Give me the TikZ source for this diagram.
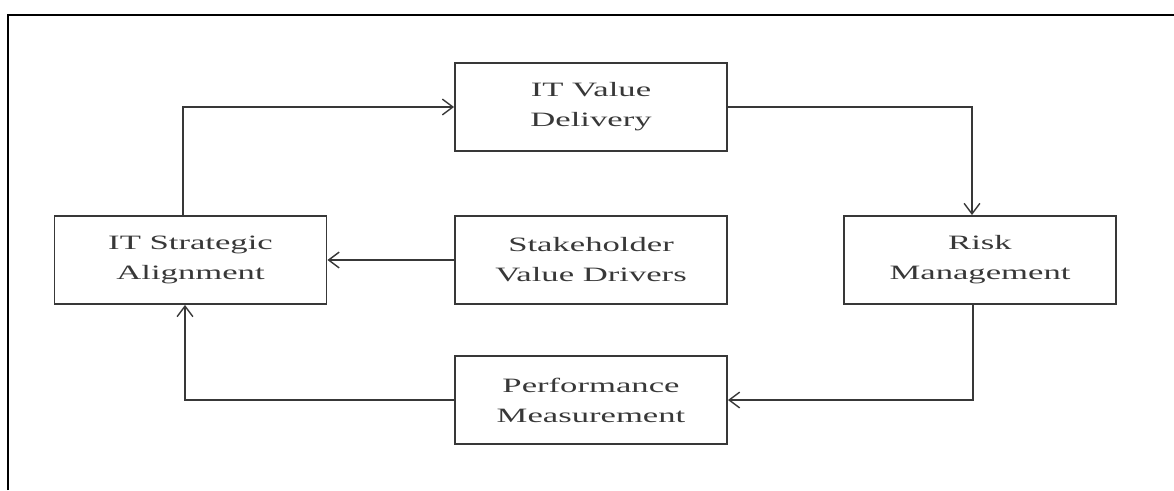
\documentclass[tikz,border=0pt]{standalone}
\usepackage{fontspec}
\setmainfont{Liberation Serif}[FakeStretch=1.7]
\usetikzlibrary{arrows.meta}
\definecolor{inkgray}{HTML}{383838}
\begin{document}
\begin{tikzpicture}[
  govbox/.style={draw=inkgray, line width=1.1pt, text=inkgray, align=center,
    minimum width=5.44cm, minimum height=1.76cm, inner sep=0pt,
    font=\fontsize{11.6}{17}\selectfont},
  link/.style={draw=inkgray, line width=0.8pt, -{Straight Barb[length=6pt,width=9pt]}}]
\useasboundingbox (0,0) rectangle (23.48,-9.8);
\draw [line width=0.7pt] (0.16,-9.8) |- (23.48,-0.3);

\node [govbox] (deliv) at (11.82,-2.14) {IT Value\\Delivery};
\node [govbox] (stake) at (11.82,-5.2) {Stakeholder\\Value Drivers};
\node [govbox] (align) at (3.81,-5.2) {IT Strategic\\Alignment};
\node [govbox] (risk) at (19.6,-5.2) {Risk\\Management};
\node [govbox] (perf) at (11.82,-8.0) {Performance\\Measurement};

\draw [link] ([xshift=-0.15cm]align.north) |- (deliv.west);
\draw [link] (deliv.east) -| ([xshift=-0.16cm]risk.north);
\draw [link] ([xshift=-0.14cm]risk.south) |- (perf.east);
\draw [link] (perf.west) -| ([xshift=-0.11cm]align.south);
\draw [link] (stake.west) -- (align.east);
\end{tikzpicture}
\end{document}
